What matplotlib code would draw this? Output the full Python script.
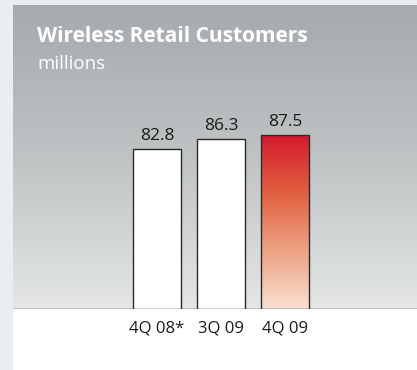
import matplotlib.pyplot as plt
import numpy as np
from matplotlib.colors import LinearSegmentedColormap

quarters = ["4Q 08*", "3Q 09", "4Q 09"]
customers = [82.8, 86.3, 87.5]
title = "Wireless Retail Customers"
subtitle = "millions"

W, H = 417, 370
fig = plt.figure(figsize=(W / 100, H / 100), dpi=100)
fig.patch.set_facecolor("#e9eef0")

# gray panel with vertical gradient
px0, py_top, py_base = 13, 5, 309
bg = fig.add_axes([px0 / W, 0, 1 - px0 / W, 1 - py_top / H])
bg.set_xlim(0, 1)
bg.set_ylim(0, H - py_top)
bg.axis("off")
bg.axhspan(0, H - py_base, color="white", lw=0)
grad_bg = LinearSegmentedColormap.from_list("bg", ["#e4e6e7", "#bfc3c4", "#a6aaad"])
bg.imshow(np.linspace(0, 1, 256).reshape(-1, 1), cmap=grad_bg, aspect="auto",
          origin="lower", extent=[0, 1, H - py_base, H - py_top])

bg.text(24 / (W - px0), H - 42, title, color="white", fontsize=15,
        fontweight="bold", family="Open Sans", va="baseline")
bg.text(24 / (W - px0), H - 69, subtitle, color="white", fontsize=13.5,
        family="Open Sans", va="baseline")

# bar chart axes
ax = fig.add_axes([px0 / W, 1 - py_base / H, 1 - px0 / W, (py_base - py_top) / H])
ax.patch.set_alpha(0)
k = 2.98  # px per million
y0 = 29.1
ax.set_ylim(y0, y0 + (py_base - py_top) / k)
x = np.arange(len(quarters))
ax.set_xlim(-144 / 64, -144 / 64 + (W - px0) / 64)
bars = ax.bar(x, customers, width=0.75, bottom=0, color="white",
              edgecolor="#2a2a2a", linewidth=1.0, zorder=2)

# gradient fill for latest quarter
b = bars[-1]
b.set_facecolor("none")
grad_bar = LinearSegmentedColormap.from_list("bar", ["#f9e0d0", "#eda283", "#e1603f", "#d5182e"])
im = ax.imshow(np.linspace(0, 1, 256).reshape(-1, 1), cmap=grad_bar, aspect="auto",
               origin="lower", extent=[b.get_x(), b.get_x() + b.get_width(), y0, customers[-1]],
               zorder=1)
im.set_clip_path(b)
b.set_zorder(3)

for xi, v in zip(x, customers):
    ax.text(xi, v + 1.6, f"{v:.1f}", ha="center", va="bottom", fontsize=12.5,
            family="Open Sans", color="#1a1a1a")

ax.axhline(y0, color="#1a1a1a", lw=1.0, zorder=4)
ax.set_xticks(x)
ax.set_xticklabels(quarters, fontsize=12, family="Open Sans", color="#1a1a1a")
ax.tick_params(axis="x", length=0, pad=8)
ax.set_yticks([])
for s in ax.spines.values():
    s.set_visible(False)

fig.savefig("out.png", dpi=100)
